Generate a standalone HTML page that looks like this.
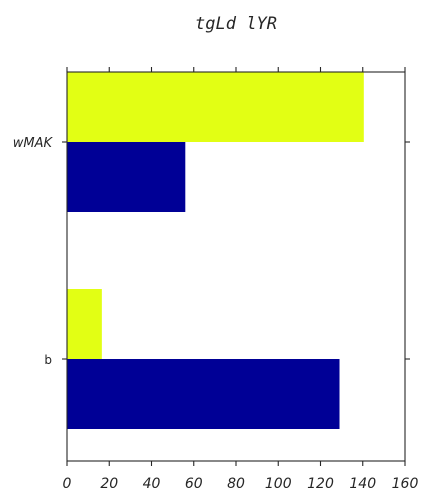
<!DOCTYPE html>
<html><head><meta charset="utf-8"><style>
html,body{margin:0;padding:0;background:#fff;width:432px;height:504px;overflow:hidden}
text{fill:#262626}
</style></head><body>
<svg id="chart" width="432" height="504" xmlns="http://www.w3.org/2000/svg">
<text x="236" y="29" text-anchor="middle" font-family="DejaVu Sans Mono, Liberation Mono, monospace" font-style="italic" font-size="17">tgLd lYR</text>
<g id="bars"></g>
<rect x="67" y="72" width="338" height="389" fill="none" stroke="#262626" stroke-width="1.1"/>
<g id="ticks"></g>
</svg>
<script>
const categories = ["b", "wMAK"];
const seriesYellow = [16.5, 140.5];
const seriesBlue = [129, 56];
const xTicks = [0, 20, 40, 60, 80, 100, 120, 140, 160];
const NS = "http://www.w3.org/2000/svg";
const x0 = 67, x1 = 405, xMax = 160;
function xs(v){ return x0 + v / xMax * (x1 - x0); }
function yc(i){ return 359 - 217 * i; }
const barH = 70;
const bars = document.getElementById('bars');
const ticks = document.getElementById('ticks');
function mk(tag, attrs, parent){ const e=document.createElementNS(NS,tag); for(const k in attrs) e.setAttribute(k,attrs[k]); parent.appendChild(e); return e; }
categories.forEach((c,i)=>{
  const y = yc(i);
  const r1 = mk('rect',{x:x0,y:y-barH,width:xs(seriesYellow[i])-x0,height:barH,fill:'#e2ff14'},bars);
  
  
  const r2 = mk('rect',{x:x0,y:y,width:xs(seriesBlue[i])-x0,height:barH,fill:'#000096'},bars);
  
  
  mk('line',{x1:62,x2:67,y1:y,y2:y,stroke:'#262626','stroke-width':1.1},ticks);
  mk('line',{x1:405,x2:410,y1:y,y2:y,stroke:'#262626','stroke-width':1.1},ticks);
  const t = mk('text',{x:52,y:y+5,'text-anchor':'end','font-family':'DejaVu Sans, Liberation Sans, sans-serif','font-size':c==='b'?12:13,'font-style':c==='b'?'normal':'italic'},ticks);
  t.textContent = c;
  
  
});
xTicks.forEach(v=>{
  const x = xs(v);
  mk('line',{x1:x,x2:x,y1:461,y2:466,stroke:'#262626','stroke-width':1.1},ticks);
  mk('line',{x1:x,x2:x,y1:67,y2:72,stroke:'#262626','stroke-width':1.1},ticks);
  const t = mk('text',{x:x,y:488,'text-anchor':'middle','font-family':'DejaVu Sans, Liberation Sans, sans-serif','font-size':14,'font-style':'italic'},ticks);
  t.textContent = v;
  
  
});
</script>
</body></html>
